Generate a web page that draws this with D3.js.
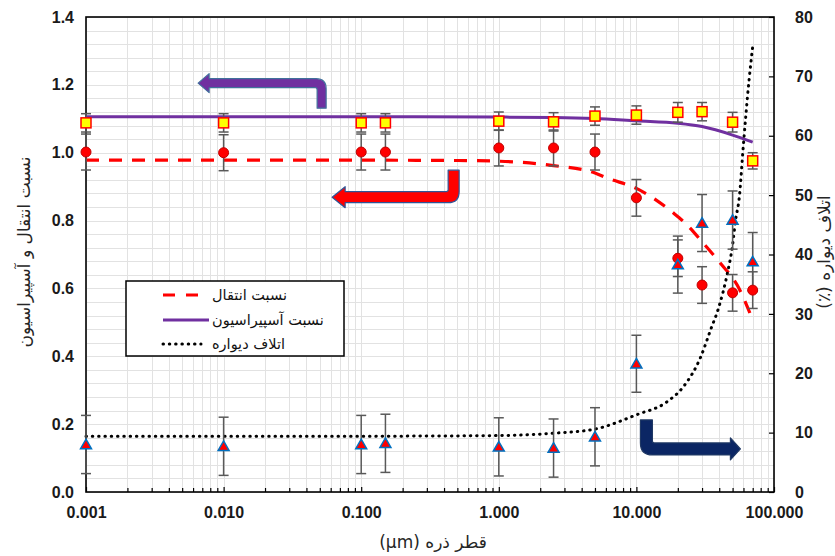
<!DOCTYPE html>
<html>
<head>
<meta charset="utf-8">
<script src="https://cdn.jsdelivr.net/npm/d3@7/dist/d3.min.js"></script>
<style>
  html, body { margin: 0; padding: 0; background: #fff; }
  svg { display: block; }
</style>
</head>
<body>
<svg id="chart" width="835" height="556"></svg>
<script>
// Particle diameters (µm) at which measurements were taken
const sizes = [0.001, 0.01, 0.1, 0.15, 1, 2.5, 5, 10, 20, 30, 50, 70];

// Transmission ratio (left axis)
const transmission    = [1.002, 1.000, 1.002, 1.002, 1.014, 1.014, 1.002, 0.867, 0.689, 0.610, 0.587, 0.595];
const transmissionErr = [0.053, 0.053, 0.053, 0.053, 0.053, 0.053, 0.053, 0.054, 0.054, 0.054, 0.054, 0.054];

// Aspiration ratio (left axis)
const aspiration    = [1.088, 1.088, 1.088, 1.088, 1.093, 1.091, 1.108, 1.111, 1.119, 1.121, 1.090, 0.976];
const aspirationErr = [0.027, 0.027, 0.027, 0.027, 0.027, 0.027, 0.027, 0.027, 0.029, 0.027, 0.029, 0.024];

// Wall loss, percent (right axis)
const wallLoss    = [8.0, 7.7, 8.0, 8.2, 7.6, 7.4, 9.3, 21.6, 38.3, 45.3, 45.8, 38.8];
const wallLossErr = [4.9, 4.9, 4.9, 4.9, 4.9, 4.9, 4.9, 4.8, 4.8, 4.8, 4.9, 4.9];

// Model curves
const transmissionFitX = [0.001, 0.01, 0.1, 0.5, 1, 2.5, 5, 6.15, 10, 18.6, 22.7, 30.7, 40.8, 54, 70];
const transmissionFitY = [0.978, 0.978, 0.978, 0.977, 0.975, 0.962, 0.940, 0.925, 0.895, 0.822, 0.792, 0.733, 0.674, 0.610, 0.507];

const aspirationFitX = [0.001, 0.1, 1, 2.5, 5, 10, 20, 30, 50, 70];
const aspirationFitY = [1.106, 1.106, 1.105, 1.104, 1.101, 1.094, 1.087, 1.077, 1.052, 1.031];

const wallFitX = [0.001, 0.01, 0.1, 1, 2.5, 5, 10, 16.7, 21.9, 29.4, 34.6, 39.8, 45.8, 49.8, 52.6, 56, 59.8, 65.9, 70];
const wallFitY = [9.4, 9.4, 9.4, 9.5, 9.9, 10.6, 13.0, 15.2, 17.7, 22.8, 27.3, 31.2, 36.8, 41.3, 45.8, 49.7, 58.2, 69.4, 75.0];

// Axis ticks
const xTicks = [0.001, 0.01, 0.1, 1, 10, 100];
const yLeftTicks = [0, 0.2, 0.4, 0.6, 0.8, 1.0, 1.2, 1.4];
const yRightTicks = [0, 10, 20, 30, 40, 50, 60, 70, 80];

// Labels
const xTitle = "قطر ذره (μm)";
const yLeftTitle = "نسبت انتقال و آسپیراسیون";
const yRightTitle = "اتلاف دیواره (٪)";
const legendLabels = ["نسبت انتقال", "نسبت آسپیراسیون", "اتلاف دیواره"];

// Colours
const RED = "#FF0000", PURPLE = "#7030A0", NAVY = "#0B2664";

const svg = d3.select("#chart");
svg.append("rect").attr("width", 835).attr("height", 556).attr("fill", "#fff");

const x = d3.scaleLog().domain([0.001, 100]).range([86, 774]);
const yL = d3.scaleLinear().domain([0, 1.4]).range([492, 17]);
const yR = d3.scaleLinear().domain([0, 80]).range([492, 17]);
const [x0, x1] = x.range();
const [yb, yt] = yL.range();

// ---- grid ----
const grid = svg.append("g").attr("stroke", "#E2E2E2").attr("stroke-width", 1);
const logLines = [];
for (let e = -3; e <= 1; e++) for (let k = 1; k <= 9; k++) logLines.push(k * Math.pow(10, e));
logLines.push(100);
grid.selectAll("line.v").data(logLines).join("line")
  .attr("x1", d => Math.round(x(d)) + 0.5).attr("x2", d => Math.round(x(d)) + 0.5)
  .attr("y1", yt).attr("y2", yb);
const hLines = d3.range(0, 36).map(i => i * 0.04);
grid.selectAll("line.h").data(hLines).join("line")
  .attr("x1", x0).attr("x2", x1)
  .attr("y1", d => Math.round(yL(d)) + 0.5).attr("y2", d => Math.round(yL(d)) + 0.5);

// ---- axes ----
const tickFont = g => g.selectAll("text")
  .attr("font-family", "Liberation Sans, Arial, sans-serif")
  .attr("font-size", 16).attr("font-weight", "bold").attr("fill", "#1a1a1a");

const minorX = logLines.filter(d => !xTicks.includes(d));
svg.append("g").attr("transform", `translate(0,${yb})`)
  .call(d3.axisBottom(x).tickValues(minorX).tickSize(-4).tickFormat(""))
  .call(g => g.select(".domain").remove())
  .call(g => g.selectAll("line").attr("stroke", "#000").attr("stroke-width", 1.2));
svg.append("g").attr("transform", `translate(0,${yb})`)
  .call(d3.axisBottom(x).tickValues(xTicks).tickSize(-5).tickPadding(15).tickFormat(d3.format(".3f")))
  .call(g => g.select(".domain").remove())
  .call(g => g.selectAll("line").attr("stroke", "#000").attr("stroke-width", 1.2))
  .call(tickFont);

svg.append("g").attr("transform", `translate(${x0},0)`)
  .call(d3.axisLeft(yL).tickValues(yLeftTicks).tickSize(0).tickPadding(12).tickFormat(d3.format(".1f")))
  .call(g => g.select(".domain").remove())
  .call(tickFont);

svg.append("g").attr("transform", `translate(${x1},0)`)
  .call(d3.axisRight(yR).tickValues(yRightTicks).tickSize(-5).tickPadding(21).tickFormat(d3.format("d")))
  .call(g => g.select(".domain").remove())
  .call(g => g.selectAll("line").attr("stroke", "#000").attr("stroke-width", 1.2))
  .call(tickFont);

// plot frame
svg.append("rect").attr("x", x0).attr("y", yt).attr("width", x1 - x0).attr("height", yb - yt)
  .attr("fill", "none").attr("stroke", "#000").attr("stroke-width", 1.6);

// ---- axis titles ----
const titleFont = s => s.attr("font-family", "DejaVu Sans, sans-serif").attr("font-size", 17)
  .attr("fill", "#262626").attr("direction", "rtl").attr("text-anchor", "middle");
svg.append("text").call(titleFont).attr("x", 433).attr("y", 548).text(xTitle);
svg.append("text").call(titleFont).attr("transform", "translate(30,252) rotate(-90)").text(yLeftTitle);
svg.append("text").call(titleFont).attr("transform", "translate(830,252) rotate(-90)").text(yRightTitle);

// ---- model curves ----
const lineL = d3.line().x(d => x(d[0])).y(d => yL(d[1])).curve(d3.curveMonotoneX);
const lineR = d3.line().x(d => x(d[0])).y(d => yR(d[1])).curve(d3.curveMonotoneX);

svg.append("path").datum(d3.zip(aspirationFitX, aspirationFitY))
  .attr("d", lineL).attr("fill", "none").attr("stroke", PURPLE).attr("stroke-width", 3);
svg.append("path").datum(d3.zip(transmissionFitX, transmissionFitY))
  .attr("d", lineL).attr("fill", "none").attr("stroke", RED).attr("stroke-width", 3.2)
  .attr("stroke-dasharray", "13,10");
svg.append("path").datum(d3.zip(wallFitX, wallFitY))
  .attr("d", lineR).attr("fill", "none").attr("stroke", "#000").attr("stroke-width", 3)
  .attr("stroke-linecap", "round").attr("stroke-dasharray", "0.5,5.8");

// ---- error bars ----
function errorBars(vals, errs, y) {
  const g = svg.append("g").attr("stroke", "#595959").attr("stroke-width", 1.5);
  const rows = sizes.map((s, i) => ({ s, v: vals[i], e: errs[i] }));
  g.selectAll("line.stem").data(rows).join("line")
    .attr("x1", d => x(d.s)).attr("x2", d => x(d.s))
    .attr("y1", d => y(d.v + d.e)).attr("y2", d => y(d.v - d.e));
  ["+", "-"].forEach(sign => {
    g.selectAll("line.cap" + (sign === "+" ? "u" : "d")).data(rows).join("line")
      .attr("x1", d => x(d.s) - 5).attr("x2", d => x(d.s) + 5)
      .attr("y1", d => y(sign === "+" ? d.v + d.e : d.v - d.e))
      .attr("y2", d => y(sign === "+" ? d.v + d.e : d.v - d.e));
  });
}
errorBars(transmission, transmissionErr, yL);
errorBars(aspiration, aspirationErr, yL);
errorBars(wallLoss, wallLossErr, yR);

// ---- markers ----
svg.append("g").selectAll("circle").data(d3.zip(sizes, transmission)).join("circle")
  .attr("cx", d => x(d[0])).attr("cy", d => yL(d[1])).attr("r", 5)
  .attr("fill", RED).attr("stroke", "#C00000").attr("stroke-width", 1);

svg.append("g").selectAll("rect").data(d3.zip(sizes, aspiration)).join("rect")
  .attr("x", d => x(d[0]) - 5).attr("y", d => yL(d[1]) - 5).attr("width", 10).attr("height", 10)
  .attr("fill", "#FFFF00").attr("stroke", RED).attr("stroke-width", 1.5);

const tri = d3.symbol().type(d3.symbolTriangle).size(52);
svg.append("g").selectAll("path").data(d3.zip(sizes, wallLoss)).join("path")
  .attr("transform", d => `translate(${x(d[0])},${yR(d[1]) + 1})`).attr("d", tri)
  .attr("fill", RED).attr("stroke", "#0070C0").attr("stroke-width", 1.5);

// ---- bent arrows pointing to the axis each curve belongs to ----
function bentArrow(tip, o, sx, sy, fill, stroke) {
  const { L, h, hh, hl, t, D, R, r } = o;
  const p = `M0,0 L${hl},${-hh} L${hl},${-h} L${L - R},${-h} Q${L},${-h} ${L},${-h + R} ` +
            `L${L},${D} L${L - t},${D} L${L - t},${h + r} Q${L - t},${h} ${L - t - r},${h} ` +
            `L${hl},${h} L${hl},${hh} Z`;
  svg.append("path").attr("d", p)
    .attr("transform", `translate(${tip[0]},${tip[1]}) scale(${sx},${sy})`)
    .attr("fill", fill).attr("stroke", stroke).attr("stroke-width", 1.2)
    .attr("stroke-linejoin", "round");
}
bentArrow([x(0.00653), yL(1.205)], { L: 128, h: 4.5, hh: 9.5, hl: 11, t: 9, D: 25, R: 10, r: 2 },
  1, 1, PURPLE, "#41719C");
bentArrow([x(0.0615), yL(0.869)], { L: 127, h: 5.5, hh: 10.5, hl: 13, t: 11, D: 27, R: 11, r: 2 },
  1, -1, RED, "#2F5597");
bentArrow([x(57), yL(0.127)], { L: 100, h: 6, hh: 11, hl: 10, t: 12, D: 29, R: 12, r: 2 },
  -1, -1, NAVY, "#1F3864");

// ---- legend ----
const leg = svg.append("g");
leg.append("rect").attr("x", 126).attr("y", 281).attr("width", 218).attr("height", 75)
  .attr("fill", "#fff").attr("stroke", "#000").attr("stroke-width", 1.5);
const legRows = [
  { y: 295, stroke: RED, w: 3.2, dash: "12,11", cap: "butt", len: 36 },
  { y: 320, stroke: PURPLE, w: 3, dash: null, cap: "butt", len: 46 },
  { y: 344, stroke: "#000", w: 3, dash: "0.5,5.8", cap: "round", len: 38 }
];
legRows.forEach((r, i) => {
  leg.append("line").attr("x1", 163).attr("x2", 163 + r.len).attr("y1", r.y).attr("y2", r.y)
    .attr("stroke", r.stroke).attr("stroke-width", r.w).attr("stroke-linecap", r.cap)
    .attr("stroke-dasharray", r.dash);
  leg.append("text").attr("x", 212).attr("y", r.y + 5)
    .attr("font-family", "DejaVu Sans, sans-serif").attr("font-size", 14.5)
    .attr("fill", "#111").text(legendLabels[i]);
});
</script>
</body>
</html>
